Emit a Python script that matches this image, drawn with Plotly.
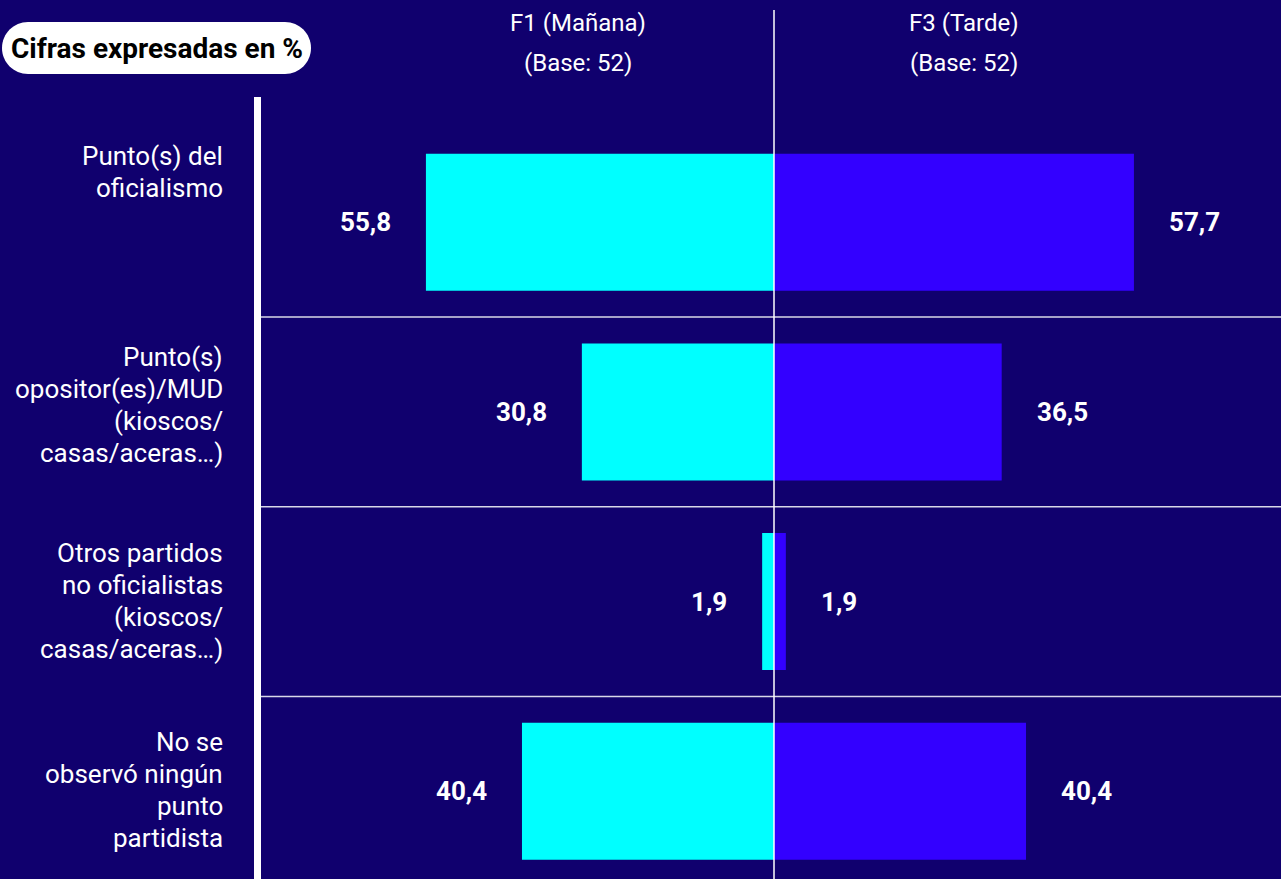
import plotly.graph_objects as go

# ---- data ----
categories = [
    "Punto(s) del oficialismo",
    "Punto(s) opositor(es)/MUD (kioscos/ casas/aceras…)",
    "Otros partidos no oficialistas (kioscos/ casas/aceras…)",
    "No se observó ningún punto partidista",
]
category_lines = [
    ["Punto(s) del", "oficialismo"],
    ["Punto(s)", "opositor(es)/MUD", "(kioscos/", "casas/aceras…)"],
    ["Otros partidos", "no oficialistas", "(kioscos/", "casas/aceras…)"],
    ["No se", "observó ningún", "punto", "partidista"],
]
f1_values = [55.8, 30.8, 1.9, 40.4]
f3_values = [57.7, 36.5, 1.9, 40.4]
series_names = ["F1 (Mañana)", "F3 (Tarde)"]
base_labels = ["(Base: 52)", "(Base: 52)"]
title_text = "Cifras expresadas en %"

# ---- style ----
BG = "#10006E"
CYAN = "#00FFFF"
BLUE = "#3300FF"
FONT = "Roboto"
W, H = 1281, 879
ML, MT = 261, 97
label_yshift = [50, 7, 1, 1]
LINE_GAP = 32

def fmt(v):
    return f"{v:.1f}".replace(".", ",")

idx = list(range(len(categories)))

fig = go.Figure()
fig.add_trace(go.Bar(
    x=[-v for v in f1_values], y=idx, orientation="h", width=0.722,
    marker=dict(color=CYAN, line=dict(width=0)), name=series_names[0],
    hoverinfo="skip"))
fig.add_trace(go.Bar(
    x=f3_values, y=idx, orientation="h", width=0.722,
    marker=dict(color=BLUE, line=dict(width=0)), name=series_names[1],
    hoverinfo="skip"))

annotations = []
# value labels
for i, (a, b) in enumerate(zip(f1_values, f3_values)):
    annotations.append(dict(x=-a, y=i, xref="x", yref="y", text=f"<b>{fmt(a)}</b>",
                            showarrow=False, xanchor="right", yanchor="middle",
                            xshift=-33, font=dict(family=FONT, size=26, color="white")))
    annotations.append(dict(x=b, y=i, xref="x", yref="y", text=f"<b>{fmt(b)}</b>",
                            showarrow=False, xanchor="left", yanchor="middle",
                            xshift=33, font=dict(family=FONT, size=26, color="white")))

# category labels (one annotation per line for wider line spacing)
label_x = (225 - ML) / (W - ML)
for i, lines in enumerate(category_lines):
    n = len(lines)
    for j, line in enumerate(lines):
        off = ((n - 1) / 2 - j) * LINE_GAP + label_yshift[i]
        annotations.append(dict(x=label_x, y=i, xref="paper", yref="y", text=line,
                                showarrow=False, xanchor="right", yanchor="middle",
                                yshift=off, align="right",
                                font=dict(family=FONT, size=26, color="white")))

# headers
plot_h = H - MT
def py(pix):
    return 1 + (MT - pix) / plot_h
for k, (nm, bl) in enumerate(zip(series_names, base_labels)):
    xp = 0.5 + (-0.189 if k == 0 else 0.189)
    annotations.append(dict(x=xp, y=py(23), xref="paper", yref="paper", text=nm,
                            showarrow=False, xanchor="center", yanchor="middle",
                            font=dict(family=FONT, size=24, color="white")))
    annotations.append(dict(x=xp, y=py(63), xref="paper", yref="paper", text=bl,
                            showarrow=False, xanchor="center", yanchor="middle",
                            font=dict(family=FONT, size=24, color="white")))

# title pill
plot_w = W - ML
pill_cx, pill_cy, hw, hh = 156.5, 48, 154.5, 26
k = 0.5523 * hh
s = hw - hh
path = (f"M {-s},{-hh} L {s},{-hh} C {s + k},{-hh} {hw},{-k} {hw},0 "
        f"C {hw},{k} {s + k},{hh} {s},{hh} L {-s},{hh} "
        f"C {-s - k},{hh} {-hw},{k} {-hw},0 C {-hw},{-k} {-s - k},{-hh} {-s},{-hh} Z")
shapes = [dict(type="path", xref="paper", yref="paper", xsizemode="pixel", ysizemode="pixel",
               xanchor=(pill_cx - ML) / plot_w, yanchor=py(pill_cy), path=path,
               fillcolor="white", line=dict(width=0), layer="above")]
annotations.append(dict(x=(pill_cx - ML) / plot_w, y=py(pill_cy), xref="paper", yref="paper",
                        text=f"<b>{title_text}</b>", showarrow=False, xanchor="center",
                        yanchor="middle", font=dict(family=FONT, size=28, color="black")))

# separators
for i in range(len(categories) - 1):
    shapes.append(dict(type="line", xref="paper", yref="y", x0=0, x1=1, y0=i + 0.5, y1=i + 0.5,
                       line=dict(color="#d8d8e8", width=1.5), layer="above"))
# center line
shapes.append(dict(type="line", xref="x", yref="paper", x0=0, x1=0, y0=0, y1=py(10),
                   line=dict(color="white", width=1.5), layer="above"))

px_per_unit = 6.238
fig.update_layout(
    width=W, height=H, margin=dict(l=ML, r=0, t=MT, b=0),
    paper_bgcolor=BG, plot_bgcolor=BG, showlegend=False, barmode="overlay",
    xaxis=dict(range=[-(774 - ML) / px_per_unit, (W - 774) / px_per_unit],
               showgrid=False, zeroline=False, showticklabels=False, ticks="",
               fixedrange=True),
    yaxis=dict(range=[3 + (H - 791.3) / 189.7, -(222.2 - MT) / 189.7],
               showgrid=False, zeroline=False, showticklabels=False, ticks="",
               showline=True, linecolor="white", linewidth=7, fixedrange=True),
    annotations=annotations, shapes=shapes,
    font=dict(family=FONT, color="white"),
)

fig.write_html("out.html", config={"displayModeBar": False},
               post_script="document.body.style.margin='0';document.body.style.background='#10006E';document.body.style.overflow='hidden';")
